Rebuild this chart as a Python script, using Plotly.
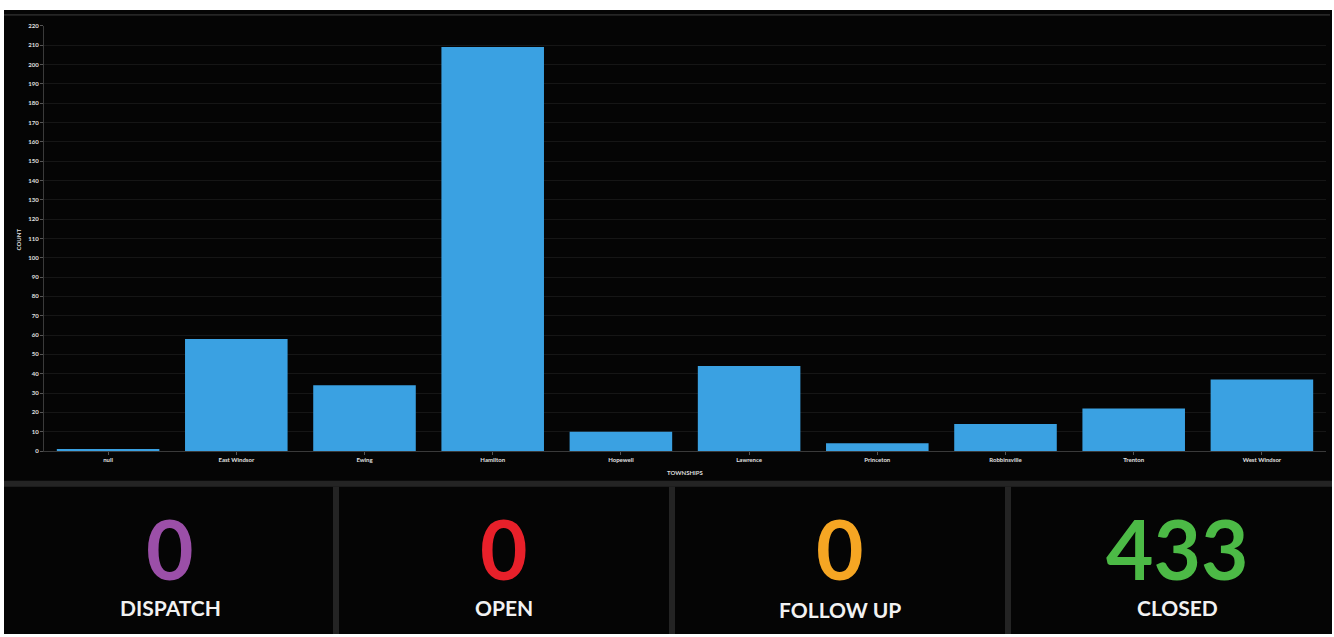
import plotly.graph_objects as go

townships = ["null", "East Windsor", "Ewing", "Hamilton", "Hopewell", "Lawrence",
             "Princeton", "Robbinsville", "Trenton", "West Windsor"]
counts = [1, 58, 34, 209, 10, 44, 4, 14, 22, 37]
y_ticks = list(range(0, 230, 10))

status_labels = ["DISPATCH", "OPEN", "FOLLOW UP", "CLOSED"]
status_values = [0, 0, 0, 433]
status_colors = ["#9b4fa8", "#e8202a", "#f6a623", "#4cba46"]

W, H = 1334, 637
def fx(px):
    return px / W
def fy(py):
    return 1 - py / H

fig = go.Figure()
fig.add_trace(go.Bar(x=townships, y=counts, marker=dict(color="#3aa1e2", line=dict(width=0)),
                     hoverinfo="x+y"))

shapes = []
shapes.append(dict(type="rect", xref="paper", yref="paper", x0=fx(4), x1=fx(1332), y0=0, y1=fy(6),
                   fillcolor="#050505", line=dict(width=0), layer="below"))
shapes.append(dict(type="rect", xref="paper", yref="paper", x0=fx(4), x1=fx(1330), y0=fy(12), y1=fy(10),
                   fillcolor="#262626", line=dict(width=0), layer="below"))
shapes.append(dict(type="rect", xref="paper", yref="paper", x0=fx(4), x1=fx(1332), y0=fy(488), y1=fy(482),
                   fillcolor="#242424", line=dict(width=0), layer="below"))
for xc in [336, 672, 1008]:
    shapes.append(dict(type="rect", xref="paper", yref="paper", x0=fx(xc - 3), x1=fx(xc + 3), y0=0, y1=fy(488),
                       fillcolor="#242424", line=dict(width=0), layer="below"))

annotations = []
annotations.append(dict(text="<b>COUNT</b>", xref="paper", yref="paper", x=fx(18), y=fy(238), textangle=-90,
                        showarrow=False, font=dict(size=6, color="#dddddd", family="Lato"),
                        xanchor="center", yanchor="middle"))
annotations.append(dict(text="<b>TOWNSHIPS</b>", xref="paper", yref="paper", x=fx(686), y=fy(474),
                        showarrow=False, font=dict(size=6, color="#dddddd", family="Lato"),
                        xanchor="center", yanchor="middle"))

centers = [170, 504, 840, 1177]
for cx, lab, val, col in zip(centers, status_labels, status_values, status_colors):
    annotations.append(dict(text=str(val), xref="paper", yref="paper", x=fx(cx), y=fy(498),
                            showarrow=False, font=dict(size=82, color=col, family="Lato", weight="bold"),
                            height=86, valign="top",
                            xanchor="center", yanchor="top"))
    ly = 612 if lab == "FOLLOW UP" else 610
    annotations.append(dict(text=lab, xref="paper", yref="paper", x=fx(cx), y=fy(ly),
                            showarrow=False, font=dict(size=21, color="#f2f2f2", family="Lato", weight="bold"),
                            xanchor="center", yanchor="middle"))

fig.update_layout(
    width=W, height=H,
    margin=dict(l=0, r=0, t=0, b=0),
    paper_bgcolor="#ffffff",
    plot_bgcolor="rgba(0,0,0,0)",
    bargap=0.2,
    showlegend=False,
    shapes=shapes,
    annotations=annotations,
    xaxis=dict(domain=[fx(44), fx(1326)], anchor="y", showgrid=False, showline=True, linecolor="#3a3a3a",
               linewidth=1, ticks="outside", ticklen=3, tickcolor="#555555",
               tickfont=dict(size=6, color="#e0e0e0", family="Lato", weight="bold"), zeroline=False),
    yaxis=dict(domain=[fy(452), fy(22)], range=[0, 220], tickvals=y_ticks, showgrid=True,
               gridcolor="#161616", gridwidth=1, showline=True, linecolor="#3a3a3a", linewidth=1,
               ticks="outside", ticklen=3, tickcolor="#555555", zeroline=False,
               tickfont=dict(size=6, color="#e0e0e0", family="Lato", weight="bold")),
)

fig.write_html("out.html", config={"displayModeBar": False},
               post_script="document.body.style.margin='0';document.body.style.overflow='hidden';")
